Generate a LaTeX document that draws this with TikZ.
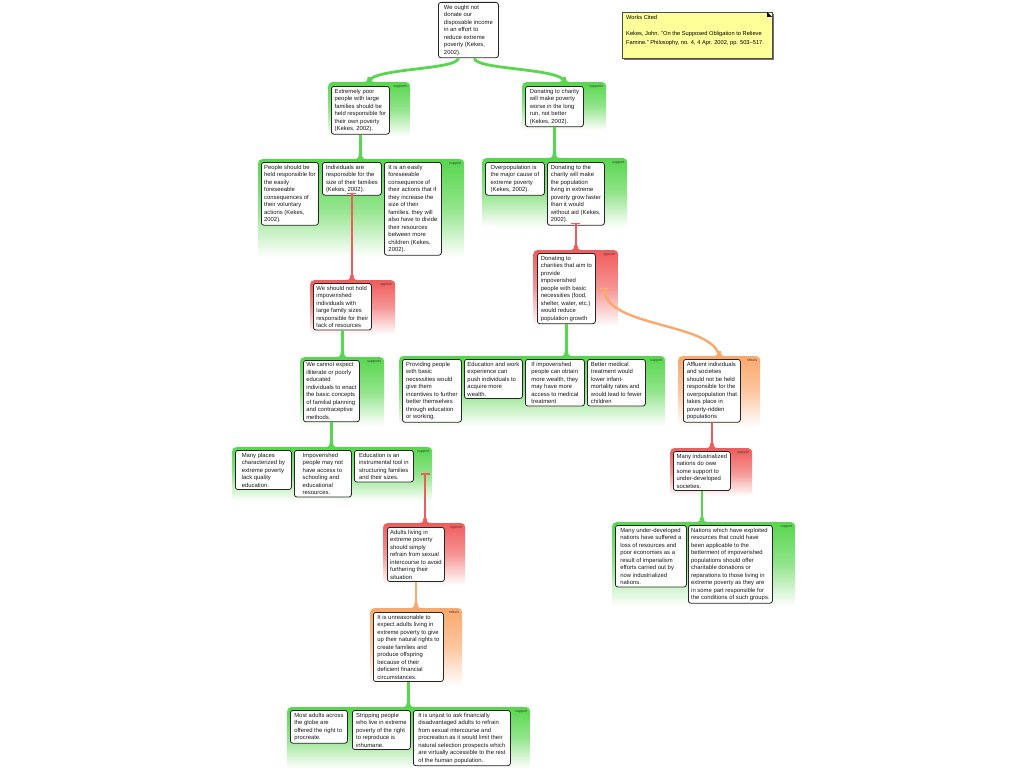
\documentclass[tikz,border=0pt]{standalone}
\usepackage{fontspec}
\setmainfont{Liberation Sans}
\usetikzlibrary{arrows.meta}
\definecolor{grn}{RGB}{88,214,78}
\definecolor{rd}{RGB}{240,92,92}
\definecolor{org}{RGB}{250,168,108}
\definecolor{notey}{RGB}{255,255,153}
\newcommand\argrp[7]{%
  \node[#2, minimum width={(#5-#3)*1pt}, minimum height={(#6-#4)*1pt}] (#1) at (#3,#4) {};
  \node[glabel] (#1lab) at ([shift={(-3,3)}]#1.north east) {#7};}
\newcommand\flare[2]{%
  \fill[#2] ([shift={(-6,0)}]#1) .. controls ([shift={(-2,0)}]#1) and ([shift={(-1.5,-2)}]#1) .. ([shift={(-1.5,-5)}]#1)
   -- ([shift={(1.5,-5)}]#1) .. controls ([shift={(1.5,-2)}]#1) and ([shift={(2,0)}]#1) .. ([shift={(6,0)}]#1) -- cycle;}
\begin{document}
\begin{tikzpicture}[x=1pt,y=-1pt,
  claim/.style={draw=black!85, line width=0.8pt, rounded corners=2.5pt, fill=white, align=left,
    inner xsep=2.2pt, inner ysep=2.4pt, anchor=north west, font=\fontsize{5.9}{7.5}\selectfont, text=black!90},
  grp/.style={rounded corners=4pt, anchor=north west, inner sep=0pt},
  ggrp/.style={grp, top color=grn, bottom color=white, middle color=grn!65},
  rgrp/.style={grp, top color=rd, bottom color=white, middle color=rd!65},
  ogrp/.style={grp, top color=org, bottom color=white, middle color=org!65},
  glabel/.style={anchor=north east, inner sep=0pt, font=\fontsize{3.6}{4}\selectfont, text=black!75},
  gline/.style={draw=grn, line width=2.8pt},
  rline/.style={draw=rd, line width=2.4pt},
  oline/.style={draw=org, line width=2.4pt},
  tbar/.style={{Bar[width=9pt,line width=1.6pt]}-}
]
\useasboundingbox (0,0) rectangle (1024,768);

% ---------- group backgrounds ----------
\argrp{gL2}{ggrp}{328}{82}{410}{136}{supports}
\argrp{gR2}{ggrp}{522}{82}{606}{130}{supports}
\argrp{gL3}{ggrp}{258}{159}{464}{257}{support}
\argrp{gR3}{ggrp}{482}{158}{627}{227}{support}
\argrp{gOpp1}{rgrp}{310}{280}{395}{334}{oppose}
\argrp{gSup2}{ggrp}{300}{357}{384}{426}{supports}
\argrp{gSup3}{ggrp}{232}{447}{432}{501}{support}
\argrp{gOpp2}{rgrp}{383}{523}{465}{585}{oppose}
\argrp{gReb1}{ogrp}{370}{608}{462}{686}{rebuts}
\argrp{gSup4}{ggrp}{287}{707}{530}{768}{support}
\argrp{gOpp3}{rgrp}{533}{250}{618}{326}{oppose}
\argrp{gSup5}{ggrp}{399}{356}{665}{426}{support}
\argrp{gReb2}{ogrp}{678}{356}{760}{426}{rebuts}
\argrp{gOpp4}{rgrp}{670}{448}{752}{496}{oppose}
\argrp{gSup6}{ggrp}{612}{522}{795}{606}{support}

% ---------- claims ----------
\node[claim, minimum width=60pt] (nTop) at (438,2) {We ought not\\donate our\\disposable income\\in an effort to\\reduce extreme\\poverty (Kekes,\\2002).};
\node[claim, minimum width=58pt] (nL2) at (331,86) {Extremely poor\\people with large\\families should be\\held responsible for\\their own poverty\\(Kekes, 2002).};
\node[claim, minimum width=58pt] (nR2) at (525,86) {Donating to charity\\will make poverty\\worse in the long\\run, not better\\(Kekes, 2002).};

\node[claim, minimum width=57pt] (nA) at (261,162) {People should be\\held responsible for\\the easily\\foreseeable\\consequences of\\their voluntary\\actions (Kekes,\\2002).};
\node[claim, minimum width=59pt] (nB) at (322,162) {Individuals are\\responsible for the\\size of their families\\(Kekes, 2002).};
\node[claim, minimum width=57pt] (nC) at (384,162) {It is an easily\\foreseeable\\consequence of\\their actions that if\\they increase the\\size of their\\families, they will\\also have to divide\\their resources\\between more\\children (Kekes,\\2002).};

\node[claim, minimum width=59pt] (nD) at (485,162) {Overpopulation is\\the major cause of\\extreme poverty\\(Kekes, 2002).};
\node[claim, minimum width=57pt] (nE) at (547,162) {Donating to the\\charity will make\\the population\\living in extreme\\poverty grow faster\\than it would\\without aid (Kekes,\\2002).};

\node[claim, minimum width=58pt] (nF) at (537,253) {Donating to\\charities that aim to\\provide\\impoverished\\people with basic\\necessities (food,\\shelter, water, etc.)\\would reduce\\population growth};

\node[claim, minimum width=58pt] (nG) at (313,283) {We should not hold\\impoverished\\individuals with\\large family sizes\\responsible for their\\lack of resources};
\node[claim, minimum width=56pt] (nH) at (303,360) {We cannot expect\\illiterate or poorly\\educated\\individuals to enact\\the basic concepts\\of familial planning\\and contraceptive\\methods.};

\node[claim, minimum width=56pt] (nI1) at (235,450) {Many places\\characterized by\\extreme poverty\\lack quality\\education.};
\node[claim, minimum width=57pt] (nI2) at (294,450) {Impoverished\\people may not\\have access to\\schooling and\\educational\\resources.};
\node[claim, minimum width=59pt] (nI3) at (354,450) {Education is an\\instrumental tool in\\structuring families\\and their sizes.};

\node[claim, minimum width=57pt] (nJ) at (387,527) {Adults living in\\extreme poverty\\should simply\\refrain from sexual\\intercourse to avoid\\furthering their\\situation};
\node[claim, minimum width=70pt] (nK) at (373,612) {It is unreasonable to\\expect adults living in\\extreme poverty to give\\up their natural rights to\\create families and\\produce offspring\\because of their\\deficient financial\\circumstances.};

\node[claim, minimum width=57pt] (nL1) at (290,710) {Most adults across\\the globe are\\offered the right to\\procreate.};
\node[claim, minimum width=58pt] (nL2b) at (352,710) {Stripping people\\who live in extreme\\poverty of the right\\to reproduce is\\inhumane.};
\node[claim, minimum width=97pt] (nL3) at (413,710) {It is unjust to ask financially\\disadvantaged adults to refrain\\from sexual intercourse and\\procreation as it would limit their\\natural selection prospects which\\are virtually accessible to the rest\\of the human population.};

\node[claim, minimum width=59pt] (nM1) at (402,359) {Providing people\\with basic\\necessities would\\give them\\incentives to further\\better themselves\\through education\\or working.};
\node[claim, minimum width=58pt] (nM2) at (464,359) {Education and work\\experience can\\push individuals to\\acquire more\\wealth.};
\node[claim, minimum width=59pt] (nM3) at (525,359) {If impoverished\\people can obtain\\more wealth, they\\may have more\\access to medical\\treatment};
\node[claim, minimum width=58pt] (nM4) at (587,359) {Better medical\\treatment would\\lower infant-\\mortality rates and\\would lead to fewer\\children};

\node[claim, minimum width=57pt] (nN) at (683,359) {Affluent individuals\\and societies\\should not be held\\responsible for the\\overpopulation that\\takes place in\\poverty-ridden\\populations};
\node[claim, minimum width=57pt] (nO) at (673,451) {Many industrialized\\nations do owe\\some support to\\under-developed\\societies.};
\node[claim, minimum width=71pt] (nP1) at (615,525) {Many under-developed\\nations have suffered a\\loss of resources and\\poor economies as a\\result of imperialism\\efforts carried out by\\now industrialized\\nations.};
\node[claim, minimum width=84pt] (nP2) at (688,525) {Nations which have exploited\\resources that could have\\been applicable to the\\betterment of impoverished\\populations should offer\\charitable donations or\\reparations to those living in\\extreme poverty as they are\\in some part responsible for\\the conditions of such groups.};

% ---------- connectors ----------
\draw[gline] ([xshift=-10pt]nTop.south) .. controls +(0,12) and +(0,-14) .. (gL2.north);
\draw[gline] ([xshift=6pt]nTop.south) .. controls +(0,12) and +(0,-14) .. (gR2.north);
\flare{gL2.north}{grn}
\flare{gR2.north}{grn}

\coordinate (c1) at (nL2.south |- gL3.north);
\draw[gline] (nL2.south) -- (c1); \flare{c1}{grn}
\coordinate (c2) at (nR2.south |- gR3.north);
\draw[gline] (nR2.south) -- (c2); \flare{c2}{grn}

\coordinate (t1) at ([yshift=3pt]nB.south);
\coordinate (c3) at (t1 |- gOpp1.north);
\draw[rline, tbar] (t1) -- (c3); \flare{c3}{rd}

\coordinate (c4) at (nG.south |- gSup2.north);
\draw[gline] (nG.south) -- (c4); \flare{c4}{grn}
\coordinate (c5) at (nH.south |- gSup3.north);
\draw[gline] (nH.south) -- (c5); \flare{c5}{grn}

\coordinate (t2) at (425,473);
\coordinate (c6) at (t2 |- gOpp2.north);
\draw[rline, tbar] (t2) -- (c6); \flare{c6}{rd}

\coordinate (c7) at (nJ.south |- gReb1.north);
\draw[oline] (nJ.south) -- (c7); \flare{c7}{org}
\coordinate (c8) at (nK.south |- gSup4.north);
\draw[gline] (nK.south) -- (c8); \flare{c8}{grn}

\coordinate (t3) at ([yshift=3pt]nE.south);
\coordinate (c9) at (t3 |- gOpp3.north);
\draw[rline, tbar] (t3) -- (c9); \flare{c9}{rd}

\coordinate (c10) at (nF.south |- gSup5.north);
\draw[gline] (nF.south) -- (c10); \flare{c10}{grn}

\coordinate (t4) at (604,288);
\draw[oline, tbar] (t4) .. controls (606,328) and (712,322) .. (gReb2.north); \flare{gReb2.north}{org}

\coordinate (c11) at (nN.south |- gOpp4.north);
\draw[rline] (nN.south) -- (c11); \flare{c11}{rd}
\coordinate (c12) at (nO.south |- gSup6.north);
\draw[gline] (nO.south) -- (c12); \flare{c12}{grn}

% ---------- works cited note ----------
\fill[black!55] (624,14) rectangle (774,60);
\node[draw=black!70, fill=notey, line width=0.4pt, minimum width=150pt, minimum height=46pt, anchor=north west, inner sep=0pt] (wc) at (622,12) {};
\fill[black] (767,12) -- (772,17) -- (767,17) -- cycle;
\node[anchor=north west, align=left, inner sep=0pt, font=\fontsize{5.7}{8.5}\selectfont] (wct) at (626,15)
  {Works Cited\\[8pt]Kekes, John. "On the Supposed Obligation to Relieve\\Famine." Philosophy, no. 4, 4 Apr. 2002, pp. 503--517.};
\end{tikzpicture}
\end{document}
